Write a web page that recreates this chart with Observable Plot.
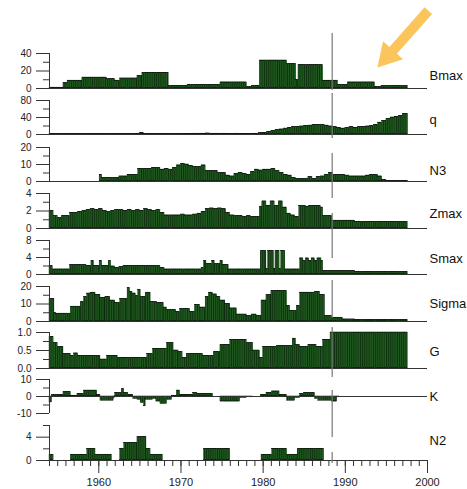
<!DOCTYPE html>
<html><head><meta charset="utf-8">
<script src="https://cdn.jsdelivr.net/npm/d3@7"></script>
<script src="https://cdn.jsdelivr.net/npm/@observablehq/plot@0.6"></script>
<style>
body{margin:0;background:#fff;}
#chart{position:relative;width:467px;height:489px;overflow:hidden;font-family:"Liberation Sans",Arial,sans-serif;}
#chart svg{position:absolute;left:0;overflow:visible;background:transparent;}
</style></head><body><div id="chart"></div>
<script>
// x extent (years) and last data year
const xDomain = [1954, 2000];
const dataEnd = 1997.6;
const markerYear = 1988.4;
const decadeTicks = [1960, 1970, 1980, 1990, 2000];
const yearTicks = d3.range(1954, 2001);

// runs: [start year, value]; each run lasts until the next start
const bmax = [[1954,1],[1955.7,6],[1956.2,9],[1958,12.5],[1961,10.5],[1962,9],[1962.6,11.5],[1964.7,14],[1965.3,18],[1968.5,3],[1970.8,4],[1974.8,7],[1978,1.5],[1978.6,3],[1979.6,32],[1982.9,28],[1984,10],[1984.3,26.5],[1987.3,9],[1989.1,4],[1990.3,7],[1993.6,1.5],[1994.4,2.5]];
const q = [[1954,0.5],[1964.5,2],[1965,3],[1965.5,1],[1966,0.5],[1970,1],[1971,1.5],[1971.5,2],[1973,2.5],[1973.5,2],[1975.5,1.5],[1976,1],[1976.5,2],[1977,1],[1977.5,1.5],[1978,1],[1979,2],[1979.5,3],[1980,4],[1980.5,6],[1981,8],[1981.5,10],[1982,12],[1982.5,14],[1983,16],[1983.5,17],[1984,18],[1984.5,19],[1985,20],[1985.5,21],[1986,23],[1986.5,22],[1987.5,21],[1988,19],[1988.5,18],[1989,16],[1989.5,14],[1990,15],[1990.5,17],[1991,16],[1991.5,17],[1992,18],[1992.5,19],[1993,20],[1993.5,23],[1994,28],[1994.5,32],[1995,36],[1995.5,40],[1996,42],[1996.5,44],[1997,48]];
const n3 = [[1954,0],[1960.1,4],[1960.4,2],[1962.5,3],[1963.5,4],[1964.8,7.5],[1966.5,8],[1967.5,7],[1968,7.5],[1968.5,7],[1969,8],[1969.5,9.5],[1970,10.5],[1970.5,10],[1971,9],[1971.5,8.5],[1972.5,9.5],[1973,6],[1974.5,5],[1975.5,3.5],[1976,3],[1976.5,4.5],[1977,5],[1977.5,4.5],[1978,4],[1978.5,5.5],[1979,7],[1979.5,6.5],[1980,7],[1981,7.5],[1981.5,6],[1982,5],[1982.5,4],[1983,3.5],[1983.5,2],[1984,1.5],[1985.5,2.5],[1986,1.5],[1986.5,2.5],[1987,3],[1987.5,4],[1988,5],[1988.5,4],[1990,3.5],[1990.5,3],[1992.5,3.5],[1993,4],[1993.5,3.8],[1994,3],[1994.5,1],[1995,0.3],[1995.5,0.2]];
const zmax = [[1954,2],[1954.5,1.4],[1955,1.2],[1955.5,1.4],[1956.5,1.8],[1957.5,1.9],[1958,2],[1958.5,2.1],[1959,2.2],[1959.5,2.1],[1960,2.2],[1960.5,2],[1961,1.9],[1961.5,2],[1962,2.1],[1963,2],[1963.5,2.1],[1964,2],[1964.5,2.1],[1965,2],[1965.5,2.2],[1966,2.1],[1966.5,2],[1967,2.1],[1967.5,1.8],[1968,1.5],[1970,1.6],[1970.5,1.5],[1971.5,1.6],[1972,1.7],[1972.5,1.9],[1973,2.2],[1973.5,2.3],[1974,2.2],[1974.5,2.3],[1975,2.2],[1975.5,1.8],[1976,1.5],[1976.5,1.4],[1977.5,1.3],[1978,1.4],[1978.5,1.3],[1979.6,2.5],[1979.9,3.1],[1980.4,2.6],[1980.9,3.1],[1981.4,2.6],[1981.9,3.1],[1982.4,2.4],[1982.9,1.7],[1983.4,1.5],[1983.9,1.3],[1984.4,2.6],[1985.2,2.5],[1985.6,2.6],[1987,2.4],[1987.3,1.4],[1988.4,0.9],[1991.2,0.75]];
const smax = [[1954,2],[1954.4,1.2],[1956.5,2.2],[1958.5,2],[1959.1,3.2],[1959.4,2],[1960.1,3.2],[1960.4,2],[1961.2,3.2],[1961.5,1.9],[1962,1.5],[1962.5,1.8],[1963,2],[1967.5,1.6],[1968,1.2],[1972.5,1.5],[1972.8,3.2],[1973.1,2.4],[1973.8,3.2],[1974.1,2.4],[1974.8,3.2],[1975.1,2.2],[1975.8,1.2],[1979.7,5.5],[1980.4,1.3],[1980.6,5.5],[1981.3,1.3],[1981.5,5.5],[1982,1.3],[1982.2,5.5],[1982.7,1.2],[1984.5,3.8],[1984.9,3.2],[1985.2,3.8],[1985.6,3.2],[1985.9,3.8],[1986.3,3.2],[1986.6,3.8],[1987.1,3.2],[1987.3,0.8],[1991.2,0.6]];
const sigma = [[1954,13],[1954.6,5],[1954.8,4.5],[1956.6,8.5],[1957.8,11],[1958.2,14],[1958.6,16],[1959,16.5],[1959.6,15],[1960.2,13.5],[1960.8,14],[1961.4,12],[1962,10.5],[1962.6,13],[1963.5,19],[1963.8,17],[1964.1,16],[1964.5,14.5],[1964.8,18],[1965.1,14],[1965.7,16.5],[1966.3,11],[1967.1,10.5],[1967.9,8],[1968.3,6.5],[1969.4,5.5],[1969.9,7],[1971.1,5.5],[1971.7,9.5],[1972.3,8],[1973,14],[1973.4,16.5],[1973.9,15.5],[1974.4,14],[1974.8,12],[1975.4,10],[1976,7.5],[1976.8,4],[1978,3],[1978.6,4],[1979.2,3],[1979.8,12],[1980.4,15],[1981,17.5],[1982.9,9],[1983.3,6],[1984.1,9],[1984.5,16.5],[1986.3,17],[1986.9,15],[1987.5,3],[1988.4,2.2],[1989.7,1.2],[1991.2,0.8]];
const g = [[1954,0.88],[1954.5,0.7],[1955,0.6],[1955.7,0.4],[1956.6,0.35],[1957,0.42],[1957.5,0.35],[1960.2,0.25],[1961,0.35],[1962.3,0.3],[1965.9,0.4],[1966.6,0.55],[1968.3,0.7],[1969.1,0.5],[1969.7,0.45],[1970.2,0.3],[1970.7,0.4],[1972.7,0.35],[1974,0.45],[1974.8,0.65],[1976,0.8],[1978,0.7],[1978.8,0.5],[1979.6,0.3],[1980,0.6],[1981.7,0.62],[1983.6,0.83],[1984,0.65],[1984.5,0.6],[1985.5,0.65],[1986.5,0.6],[1987.3,0.8],[1988.2,1.0]];
const k = [[1954,-3.5],[1954.3,0.8],[1955.7,2.5],[1956.6,0.5],[1957.4,1.5],[1958.2,3.5],[1959.8,1],[1960.2,-2.5],[1961.8,-1],[1962,2],[1962.8,4.3],[1963.1,2],[1963.6,1],[1964.2,-1.5],[1964.7,-2],[1965.1,-4],[1965.5,-5.8],[1965.7,-2],[1966.6,-1.5],[1967,-3],[1967.5,-4.5],[1968.3,-2],[1968.9,0.5],[1969.5,3.5],[1969.9,1],[1971.5,2],[1972,1.5],[1973.9,0],[1974.8,-3],[1977.2,-1],[1978,-0.5],[1978.8,0],[1979.7,1],[1980.4,2],[1981.1,3],[1982,1],[1982.9,-2.5],[1983.9,-1],[1984.5,1.5],[1985,2],[1986.3,-1.5],[1986.7,-2.5],[1988.4,-3],[1989,-0.5],[1989.3,0]];
const n2 = [[1954,1],[1954.5,0],[1956.6,1],[1958.6,2],[1959.6,1],[1961.6,0],[1962.6,2],[1963.1,3],[1964.7,4],[1965.8,2],[1966.3,1],[1967.8,0],[1972.8,2],[1976,0],[1979.8,1],[1981.1,2],[1982.9,1],[1984.2,2],[1987.4,0]];

// panel names and y tick values
const names = ["Bmax","q","N3","Zmax","Smax","Sigma","G","K","N2"];
const series = [bmax,q,n3,zmax,smax,sigma,g,k,n2];
const domains = [[0,40],[0,80],[0,20],[0,4],[0,8],[0,20],[0,1],[-10,10],[0,6]];
const majorTicks = [[0,20,40],[0,40,80],[0,10,20],[0,2,4],[0,4,8],[0,10,20],[0,0.5,1],[-10,0,10],[0,4]];
const minorTicks = [[10,30],[20,60],[5,15],[1,3],[2,6],[5,15],[0.25,0.75],[-5,5],[2,6]];
// vertical marker segment extent in each panel's units
const markerSeg = [[-2.3,62.9],[-9.4,96.5],[-10,16.5],[-3.43,1.71],null,[1.7,23.4],[-0.25,1.14],[-24.1,3.5],[-0.51,1.37]];
// annotation arrow (Bmax panel units)
const arrowShaft = [{x1:2000.1, y1:89, x2:1995.2, y2:37}];
const arrowHead = [{x:1995.17, y:37.1}];

// layout (pixels)
const tops =    [53,100,147,193,240,286,332,379,425];
const bottoms = [88,134,181,228,274,321,368,413,460];
const labelDy = [4.5,2,6,2.5,1,-0.5,1,0,-2.5];

function bars(runs){
  const out=[];
  runs.forEach(([s,v],i)=>{
    const e = i+1<runs.length ? runs[i+1][0] : dataEnd;
    for(let t=s;t<e-1e-6;t+=1/12) out.push({x1:t,x2:Math.min(t+1/12,e),v});
  });
  return out;
}

const chart = document.getElementById("chart");
names.forEach((name,i)=>{
  const [d0,d1] = domains[i];
  const h = bottoms[i]-tops[i];
  const marks = [
    Plot.rectY(bars(series[i]), {x1:"x1", x2:"x2", y:"v", fill:"#129412", stroke:"#000", strokeWidth:0.35}),
    Plot.ruleY([0], {x1:xDomain[0], x2:xDomain[1], stroke:"#333", strokeWidth:1}),
    Plot.ruleX([xDomain[0]], {y1:d0, y2:d1, stroke:"#333", strokeWidth:1}),
    Plot.axisY(majorTicks[i], {tickSize:13, tickPadding:5, stroke:"#333", fill:"#222", fontSize:10,
      tickFormat: name==="G" ? d3.format(".1f") : (d)=>String(d), label:null}),
    Plot.axisY(minorTicks[i], {tickSize:6, stroke:"#333", tickFormat:()=>"", label:null}),
    Plot.text([name], {frameAnchor:"right", textAnchor:"start", dx:2, dy:labelDy[i], fontSize:13, fill:"#111"})
  ];
  if (markerSeg[i]) marks.push(Plot.ruleX([markerYear], {y1:markerSeg[i][0], y2:markerSeg[i][1], stroke:"#777", strokeWidth:1.2}));
  if (name==="Bmax") {
    marks.push(Plot.link(arrowShaft, {x1:"x1",y1:"y1",x2:"x2",y2:"y2", stroke:"#fbc55c", strokeWidth:10}));
    marks.push(Plot.dot(arrowHead, {x:"x",y:"y",symbol:"triangle",r:10,rotate:222,fill:"#fbc55c"}));
  }
  if (name==="N2") {
    marks.push(Plot.axisX(yearTicks, {tickSize:6, stroke:"#333", tickFormat:()=>"", label:null}));
    marks.push(Plot.axisX(decadeTicks, {tickSize:13, tickPadding:5, stroke:"#333", fill:"#222", fontSize:11, tickFormat:(d)=>String(d), label:null}));
  }
  const p = Plot.plot({
    width:467, height:h,
    marginLeft:49, marginRight:40, marginTop:0, marginBottom:0,
    x:{domain:xDomain, axis:null},
    y:{domain:[d0,d1], axis:null},
    style:{fontFamily:"Liberation Sans, Arial, sans-serif", overflow:"visible", background:"transparent"},
    marks
  });
  p.style.top = tops[i]+"px";
  chart.appendChild(p);
});
</script>
</body></html>
